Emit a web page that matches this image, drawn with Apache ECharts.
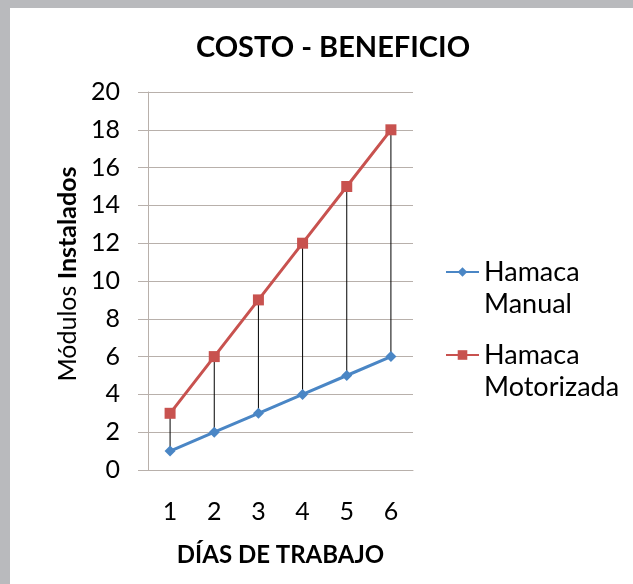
<!DOCTYPE html>
<html>
<head>
<meta charset="utf-8">
<script src="https://cdn.jsdelivr.net/npm/echarts@6/dist/echarts.min.js"></script>
<style>
  html, body { margin: 0; padding: 0; background: #b9babd; }
  #main { position: absolute; left: 10px; top: 8px; width: 623px; height: 576px; background: #ffffff; }
</style>
</head>
<body>
<div id="main"></div>
<script>
var dias = ['1', '2', '3', '4', '5', '6'];
var hamacaManual = [1, 2, 3, 4, 5, 6];
var hamacaMotorizada = [3, 6, 9, 12, 15, 18];
var yTicks = [0, 2, 4, 6, 8, 10, 12, 14, 16, 18, 20];

var fontName = 'Lato, "Open Sans", sans-serif';
var gridColor = '#b8b0ab';

// pares para las lineas verticales entre series
var dropData = dias.map(function (d, i) {
    return [i, hamacaManual[i], hamacaMotorizada[i]];
});

var myChart = echarts.init(document.getElementById('main'));

var option = {
    backgroundColor: '#ffffff',
    textStyle: { fontFamily: fontName },
    title: {
        text: 'COSTO - BENEFICIO',
        left: 318,
        top: 20,
        textAlign: 'center',
        textStyle: { fontFamily: fontName, fontWeight: 'bold', fontSize: 29, color: '#000' }
    },
    legend: {
        orient: 'vertical',
        left: 430,
        top: 211,
        itemGap: -13,
        itemWidth: 33,
        itemHeight: 12,
        textStyle: { fontFamily: fontName, fontSize: 27, color: '#000', lineHeight: 32 },
        // linea vacia arriba para que el icono quede junto a la primera linea
        formatter: function (name) { return ' \n' + name; },
        data: ['Hamaca\nManual', 'Hamaca\nMotorizada']
    },
    grid: { left: 138, right: 220, top: 84, bottom: 114 },
    xAxis: {
        type: 'category',
        data: dias,
        boundaryGap: true,
        axisLine: { lineStyle: { color: gridColor, width: 1 } },
        axisTick: { show: false },
        axisLabel: { fontFamily: fontName, fontSize: 25, color: '#000', margin: 29 },
        name: 'DÍAS DE TRABAJO',
        nameLocation: 'middle',
        nameGap: 73,
        nameTextStyle: { fontFamily: fontName, fontWeight: 'bold', fontSize: 24, color: '#000' }
    },
    yAxis: {
        type: 'value',
        min: yTicks[0],
        max: yTicks[yTicks.length - 1],
        interval: 2,
        axisLine: { show: true, lineStyle: { color: gridColor, width: 1 } },
        axisTick: { show: true, length: 10, lineStyle: { color: gridColor } },
        splitLine: { lineStyle: { color: gridColor, width: 1 } },
        axisLabel: { fontFamily: fontName, fontSize: 25, color: '#000', margin: 28 },
        name: '{r|Módulos }{b|Instalados}',
        nameLocation: 'middle',
        nameGap: 68,
        nameTextStyle: {
            padding: [0, 0, 0, 14],
            rich: {
                r: { fontFamily: fontName, fontSize: 25, color: '#000' },
                b: { fontFamily: fontName, fontSize: 25, color: '#000', fontWeight: 'bold' }
            }
        }
    },
    series: [
        {
            type: 'custom',
            silent: true,
            z: 1,
            data: dropData,
            renderItem: function (params, api) {
                var p1 = api.coord([api.value(0), api.value(1)]);
                var p2 = api.coord([api.value(0), api.value(2)]);
                return {
                    type: 'line',
                    shape: { x1: p1[0], y1: p1[1], x2: p2[0], y2: p2[1] },
                    style: { stroke: '#000', lineWidth: 1 }
                };
            }
        },
        {
            name: 'Hamaca\nManual',
            type: 'line',
            data: hamacaManual,
            z: 3,
            symbol: 'diamond',
            symbolSize: 11,
            lineStyle: { color: '#4a86c5', width: 3 },
            itemStyle: { color: '#4a86c5' }
        },
        {
            name: 'Hamaca\nMotorizada',
            type: 'line',
            data: hamacaMotorizada,
            z: 3,
            symbol: 'rect',
            symbolSize: 11,
            lineStyle: { color: '#c8524f', width: 3 },
            itemStyle: { color: '#c8524f' }
        }
    ]
};

myChart.setOption(option);
</script>
</body>
</html>
